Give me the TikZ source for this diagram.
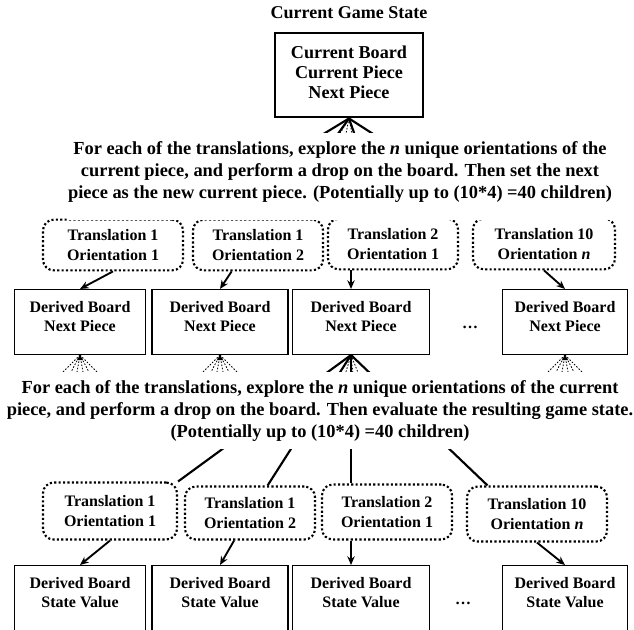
\documentclass[tikz,border=0pt]{standalone}
\usepackage{fontspec}
\setmainfont{Liberation Serif}
\usetikzlibrary{arrows.meta}
\newcommand\padlow[1][8pt]{\rule[-#1]{0pt}{#1}}

\begin{document}
\begin{tikzpicture}[x=0.75pt,y=-0.75pt,
  font=\fontsize{12}{14.5}\selectfont\bfseries,
  state/.style={draw,line width=2.2pt,minimum width=111pt,minimum height=63pt,
                align=center,inner sep=2pt,font=\fontsize{13.6}{15}\selectfont\bfseries},
  move/.style={draw,line width=1.6pt,dash pattern=on 1.6pt off 1.7pt,
               rounded corners=8pt,minimum height=38pt,align=center,inner sep=1pt},
  board/.style={draw,line width=0.8pt,minimum height=48.75pt,align=center,inner sep=1pt},
  note/.style={fill=white,align=center,anchor=north,inner xsep=1pt,inner ysep=6pt,
               font=\fontsize{13.8}{16.5}\selectfont\bfseries},
  arrow/.style={-{Stealth[length=6.5pt,width=5.5pt]},line width=1.4pt},
  branch/.style={line width=1.6pt},
  faint/.style={line width=0.6pt,dash pattern=on 1.2pt off 1.2pt}
]
\path[use as bounding box] (0,0) rectangle (634,629);
\clip (0,0) rectangle (634,629);

% root of the search
\node[font=\fontsize{13.5}{15}\selectfont\bfseries] (title) at (349,13) {Current Game State};
\node[state] (root) at (349,75) {Current Board\\Current Piece\\Next Piece\padlow[4pt]};

% first ply
\node[move,minimum width=105pt] (t1) at (113,245) {Translation 1\\Orientation 1};
\node[move,minimum width=97.5pt] (t2) at (258,245) {Translation 1\\Orientation 2};
\node[move,minimum width=97.5pt] (t3) at (393,244) {Translation 2\\Orientation 1};
\node[move,minimum width=106.5pt] (t4) at (544,244) {Translation 10\\Orientation \textit{n}};

\node[board,minimum width=98pt] (d1) at (80,322) {Derived Board\\Next Piece\padlow};
\node[board,minimum width=102pt] (d2) at (220,322) {Derived Board\\Next Piece\padlow};
\node[board,minimum width=103pt] (d3) at (361,322) {Derived Board\\Next Piece\padlow};
\node[board,minimum width=94pt] (d4) at (565,322) {Derived Board\\Next Piece\padlow};
\node (gap1) at (470,327) {\dots};
\coordinate (hub) at ([xshift=-7.5pt]d3.south);

% second ply
\node[move,minimum width=100.5pt,minimum height=42.75pt] (u1) at (110,511) {Translation 1\\Orientation 1};
\node[move,minimum width=97.5pt,minimum height=39.75pt] (u2) at (250,513) {Translation 1\\Orientation 2};
\node[move,minimum width=97.5pt,minimum height=41.25pt] (u3) at (387,512) {Translation 2\\Orientation 1};
\node[move,minimum width=105pt,minimum height=41.25pt] (u4) at (537,514) {Translation 10\\Orientation \textit{n}};

\node[board,anchor=north,minimum width=98pt,minimum height=60pt] (e1) at (80,565) {Derived Board\\State Value\padlow[20pt]};
\node[board,anchor=north,minimum width=102pt,minimum height=60pt] (e2) at (220,565) {Derived Board\\State Value\padlow[20pt]};
\node[board,anchor=north,minimum width=103pt,minimum height=60pt] (e3) at (361,565) {Derived Board\\State Value\padlow[20pt]};
\node[board,anchor=north,minimum width=94pt,minimum height=60pt] (e4) at (565,565) {Derived Board\\State Value\padlow[20pt]};
\node (gap2) at (463,603) {\dots};

% branches out of the root
\draw[branch] (root.south) -- (t1.north east);
\foreach \n in {t2,t3,t4}
  \draw[branch] (root.south) -- (\n);
\foreach \dx in {-12,-4,4}
  \draw[faint] (root.south) -- ++(\dx,20);

% branches out of the expanded board
\draw[branch] (hub) -- (u1.north east);
\draw[branch] (hub) -- (u2);
\draw[branch] (hub) -- (hub |- u3.north);
\draw[branch] (hub) -- (u4.150);
\foreach \dx in {-6,2,8}
  \draw[faint] (hub) -- ++(\dx,20);

% boards left unexpanded
\foreach \n in {d1,d2,d4}{
  \fill (\n.south) -- ++(-3,5) -- ++(6,0) -- cycle;
  \foreach \dx in {-17,-9,-3,3,9,17}
    \draw[faint] (\n.south) -- ++(\dx,17);
}

% moves to boards
\draw[arrow] (t1.south) -- (d1.north);
\draw[arrow] (t2.225) -- (d2.north);
\draw[arrow] (t3.south -| hub) -- (hub |- d3.north);
\draw[arrow] (t4.south) -- (d4.north);
\draw[arrow] (u1.south) -- (e1.north);
\draw[arrow] (u2.240) -- (e2.north);
\draw[arrow] (u3.south -| hub) -- (hub |- e3.north);
\draw[arrow] (u4.south) -- (e4.north);

% explanations laid over the branches
\node[note] (ply1) at (340,133)
  {For each of the translations, explore the \textit{n} unique orientations of the\\
   current piece, and perform a drop on the board. Then set the next\\
   piece as the new current piece. (Potentially up to (10*4) =40 children)\padlow[10pt]};
\node[note] (ply2) at (320,372)
  {For each of the translations, explore the \textit{n} unique orientations of the current\\
   piece, and perform a drop on the board. Then evaluate the resulting game state.\\
   (Potentially up to (10*4) =40 children)};
\end{tikzpicture}
\end{document}
